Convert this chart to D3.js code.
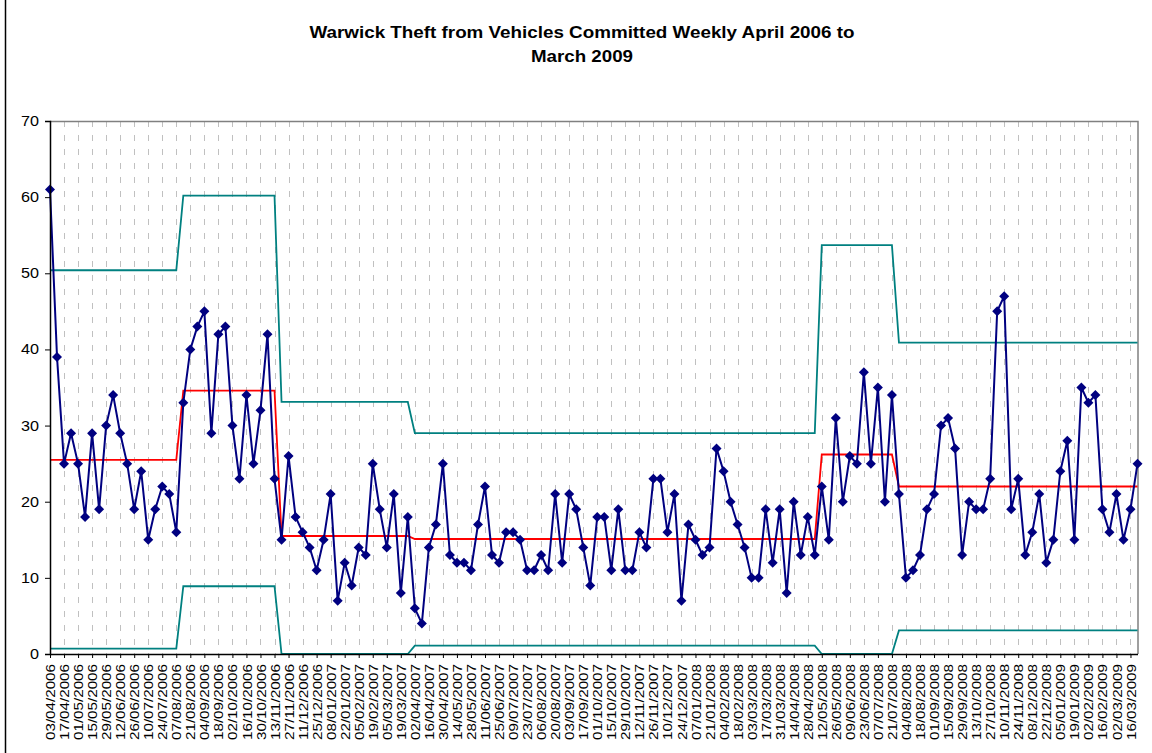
<!DOCTYPE html>
<html>
<head>
<meta charset="utf-8">
<script src="https://cdn.jsdelivr.net/npm/d3@7"></script>
<style>
    body { margin: 0; background: #fff; }
    text { font-family: "Liberation Sans", Arial, sans-serif; fill: #000; }
</style>
</head>
<body>
<svg id="chart" width="1152" height="753" viewBox="0 0 1152 753"></svg>
<script>
// Weekly counts, first week commencing 03/04/2006
const startDate = Date.UTC(2006, 3, 3);
const weeklyCounts = [
    61, 39, 25, 29, 25, 18, 29, 19, 30, 34, 29, 25, 19, 24, 15, 19, 22, 21, 16,
    33, 40, 43, 45, 29, 42, 43, 30, 23, 34, 25, 32, 42, 23, 15, 26, 18, 16, 14,
    11, 15, 21, 7, 12, 9, 14, 13, 25, 19, 14, 21, 8, 18, 6, 4, 14, 17, 25, 13,
    12, 12, 11, 17, 22, 13, 12, 16, 16, 15, 11, 11, 13, 11, 21, 12, 21, 19, 14, 9,
    18, 18, 11, 19, 11, 11, 16, 14, 23, 23, 16, 21, 7, 17, 15, 13, 14, 27, 24, 20,
    17, 14, 10, 10, 19, 12, 19, 8, 20, 13, 18, 13, 22, 15, 31, 20, 26, 25,
    37, 25, 35, 20, 34, 21, 10, 11, 13, 19, 21, 30, 31, 27, 13, 20, 19, 19, 23, 45,
    47, 19, 23, 13, 16, 21, 12, 15, 24, 28, 15, 35, 33, 34, 19, 16, 21, 15, 19, 25
];

// Control chart phases (first/last week index of each phase)
const phaseStart = [0, 19, 33, 52, 110, 121];
const phaseEnd = [18, 32, 51, 109, 120, 155];
const meanVals = [25.5, 34.6, 15.5, 15.1, 26.2, 22.0];
const uclVals = [50.4, 60.2, 33.1, 29.0, 53.7, 40.9];
const lclVals = [0.7, 8.9, 0, 1.1, 0, 3.1];

const yTicks = [0, 10, 20, 30, 40, 50, 60, 70];

const svg = d3.select("#chart");

const plot = { left: 50, right: 1137.5, top: 121, bottom: 654 };

const fmt = d3.utcFormat("%d/%m/%Y");
const weekLabel = i => fmt(d3.utcDay.offset(new Date(startDate), i * 7));

const idx = d3.range(weeklyCounts.length);
const x = d3.scalePoint().domain(idx).range([plot.left, plot.right]);
const y = d3.scaleLinear().domain([0, 70]).range([plot.bottom, plot.top]);

// step series built from phase tables
function phaseSeries(vals) {
    const out = [];
    phaseStart.forEach((s, p) => {
        for (let i = s; i <= phaseEnd[p]; i++) out.push({ i: i, v: vals[p] });
    });
    return out;
}

// chart area border (left edge visible)
svg.append("line")
    .attr("x1", 5.5).attr("x2", 5.5)
    .attr("y1", 0).attr("y2", 753)
    .attr("stroke", "#000").attr("stroke-width", 1.5);

// title (Excel renders it wide, so stretch to the measured width)
const title = svg.append("text")
    .attr("text-anchor", "middle")
    .style("font-size", "16px")
    .style("font-weight", "bold");
title.append("tspan").attr("x", 582).attr("y", 38)
    .attr("textLength", 545).attr("lengthAdjust", "spacingAndGlyphs")
    .text("Warwick Theft from Vehicles Committed Weekly April 2006 to");
title.append("tspan").attr("x", 582).attr("y", 62)
    .attr("textLength", 102).attr("lengthAdjust", "spacingAndGlyphs")
    .text("March 2009");

// vertical dashed gridlines every second week
const tickIdx = idx.filter(i => i % 2 === 0);
svg.append("g")
    .selectAll("line")
    .data(tickIdx.filter(i => i > 0))
    .join("line")
    .attr("x1", d => Math.round(x(d)) + 0.5)
    .attr("x2", d => Math.round(x(d)) + 0.5)
    .attr("y1", plot.top)
    .attr("y2", plot.bottom)
    .attr("stroke", "#c0c0c0")
    .attr("stroke-dasharray", "6,8");

// plot area border top & right
svg.append("path")
    .attr("d", `M${plot.left},${plot.top + 0.5}H${plot.right + 0.5}V${plot.bottom}`)
    .attr("fill", "none")
    .attr("stroke", "#808080")
    .attr("stroke-width", 1.5);

svg.append("clipPath").attr("id", "plotclip")
    .append("rect")
    .attr("x", plot.left).attr("y", plot.top)
    .attr("width", plot.right - plot.left + 1)
    .attr("height", plot.bottom - plot.top);

const series = svg.append("g").attr("clip-path", "url(#plotclip)");

const line = d3.line().x(d => x(d.i)).y(d => y(d.v));

series.append("path")
    .datum(phaseSeries(uclVals))
    .attr("d", line)
    .attr("fill", "none")
    .attr("stroke", "#008080")
    .attr("stroke-width", 1.8);

series.append("path")
    .datum(phaseSeries(lclVals))
    .attr("d", line)
    .attr("fill", "none")
    .attr("stroke", "#008080")
    .attr("stroke-width", 1.8);

series.append("path")
    .datum(phaseSeries(meanVals))
    .attr("d", line)
    .attr("fill", "none")
    .attr("stroke", "#ff0000")
    .attr("stroke-width", 1.8);

const counts = weeklyCounts.map((v, i) => ({ i: i, v: v }));

svg.append("path")
    .datum(counts)
    .attr("d", line)
    .attr("fill", "none")
    .attr("stroke", "#000080")
    .attr("stroke-width", 2);

svg.append("g")
    .selectAll("path")
    .data(counts)
    .join("path")
    .attr("transform", d => `translate(${x(d.i)},${y(d.v)})`)
    .attr("d", "M0,-5L5,0L0,5L-5,0Z")
    .attr("fill", "#000080");

// y axis
const yAxis = svg.append("g")
    .attr("transform", `translate(${plot.left},0)`)
    .call(d3.axisLeft(y).tickValues(yTicks).tickSize(5).tickPadding(6));
yAxis.select(".domain").attr("stroke", "#000").attr("stroke-width", 1.5);
yAxis.selectAll(".tick line").attr("stroke", "#000");
yAxis.selectAll(".tick text")
    .style("font-size", "14px")
    .attr("fill", "#000")
    .style("font-family", "'Liberation Sans', Arial, sans-serif")
    .attr("textLength", d => String(d).length * 9)
    .attr("lengthAdjust", "spacingAndGlyphs");

// x axis
const xAxis = svg.append("g")
    .attr("transform", `translate(0,${plot.bottom})`)
    .call(d3.axisBottom(x).tickValues(tickIdx).tickSize(4).tickSizeOuter(0)
        .tickFormat(weekLabel));
xAxis.select(".domain").attr("stroke", "#000").attr("stroke-width", 1.5);
xAxis.selectAll(".tick line").attr("stroke", "#000");
xAxis.selectAll(".tick text")
    .attr("fill", "#000")
    .style("font-size", "13px")
    .style("font-family", "'Liberation Sans', Arial, sans-serif")
    .attr("text-anchor", "end")
    .attr("x", 0).attr("y", 0)
    .attr("dy", "0.35em")
    .attr("transform", "translate(0,10) rotate(-90)")
    .attr("textLength", 76)
    .attr("lengthAdjust", "spacingAndGlyphs");
</script>
</body>
</html>
